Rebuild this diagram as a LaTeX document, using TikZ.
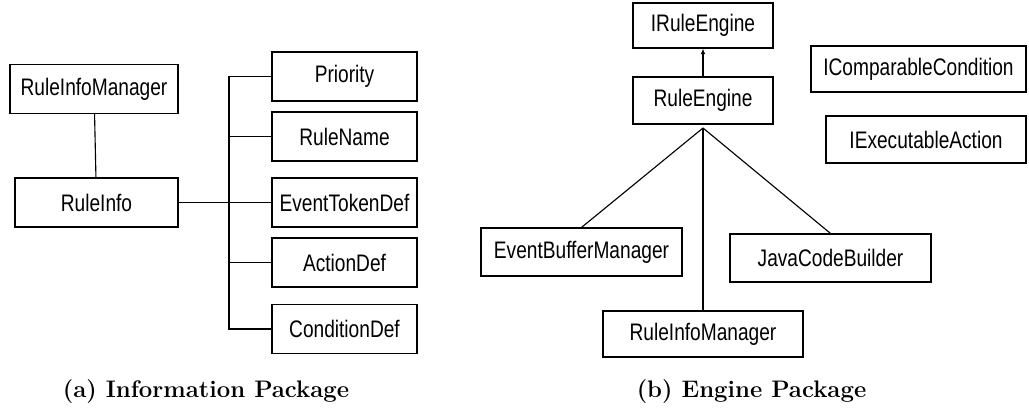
\documentclass[tikz,border=0pt]{standalone}
\usepackage{fontspec}
\setsansfont[FakeStretch=0.8]{Liberation Sans}
\usetikzlibrary{positioning,arrows.meta,calc}

\tikzset{
  cls/.style={draw, line width=0.8pt, inner sep=0pt, minimum height=1.225cm,
    font=\sffamily\fontsize{17}{20}\selectfont},
  link/.style={line width=0.8pt},
  subcap/.style={anchor=base, font=\bfseries\fontsize{17}{20}\selectfont}
}

\begin{document}
\begin{tikzpicture}[x=0.025cm,y=-0.025cm]
\useasboundingbox (0,0) rectangle (1029,408);
% (a) information package
\node[cls,minimum width=4.2cm] (infomgr) at (94,89) {RuleInfoManager};
\node[cls,minimum width=4.075cm] (ruleinfo) at (96.5,202.5) {RuleInfo};
\node[cls,minimum width=3.625cm] (priority) at (344.5,76.5) {Priority};
\node[cls,minimum width=3.625cm] (rulename) at (344.5,136.5) {RuleName};
\node[cls,minimum width=3.625cm] (eventtok) at (344.5,202.5) {EventTokenDef};
\node[cls,minimum width=3.625cm] (actiondef) at (344.5,262.5) {ActionDef};
\node[cls,minimum width=3.625cm] (conddef) at (344.5,329) {ConditionDef};
\coordinate (bus) at (229,0);
\draw[link] (infomgr) -- (ruleinfo);
\draw[link] (ruleinfo.east) -- (eventtok.west);
\draw[link] (priority.west) -| (bus |- conddef) -- (conddef.west);
\foreach \n in {rulename,actiondef}
  \draw[link] (bus |- \n) -- (\n.west);
\node[subcap] (capa) at (206,397) {(a) Information Package};
% (b) engine package
\node[cls,minimum width=3.5cm,minimum height=1.125cm] (iengine) at (703,25.5) {IRuleEngine};
\node[cls,minimum width=3.5cm,minimum height=1.175cm] (engine) at (703,100.5) {RuleEngine};
\node[cls,minimum width=5.375cm,minimum height=1.15cm] (icompare) at (918.5,69) {IComparableCondition};
\node[cls,minimum width=5cm,minimum height=1.175cm] (iexec) at (926,139.5) {IExecutableAction};
\node[cls,minimum width=5.025cm,minimum height=1.2cm] (bufmgr) at (581.5,252) {EventBufferManager};
\node[cls,minimum width=5.025cm,minimum height=1.2cm] (codebld) at (830.5,258) {JavaCodeBuilder};
\node[cls,minimum width=5cm,minimum height=1.15cm] (infomgrb) at (703,334) {RuleInfoManager};
\coordinate (hub) at (703,128);
\draw[link,-{Latex[length=4pt,width=3.5pt]}] (engine) -- (iengine);
\draw[link] (hub) -- (bufmgr.north);
\draw[link] (hub) -- (codebld.north);
\draw[link] (hub) -- (infomgrb.north);
\node[subcap] (capb) at (751.5,397) {(b) Engine Package};
\end{tikzpicture}
\end{document}
